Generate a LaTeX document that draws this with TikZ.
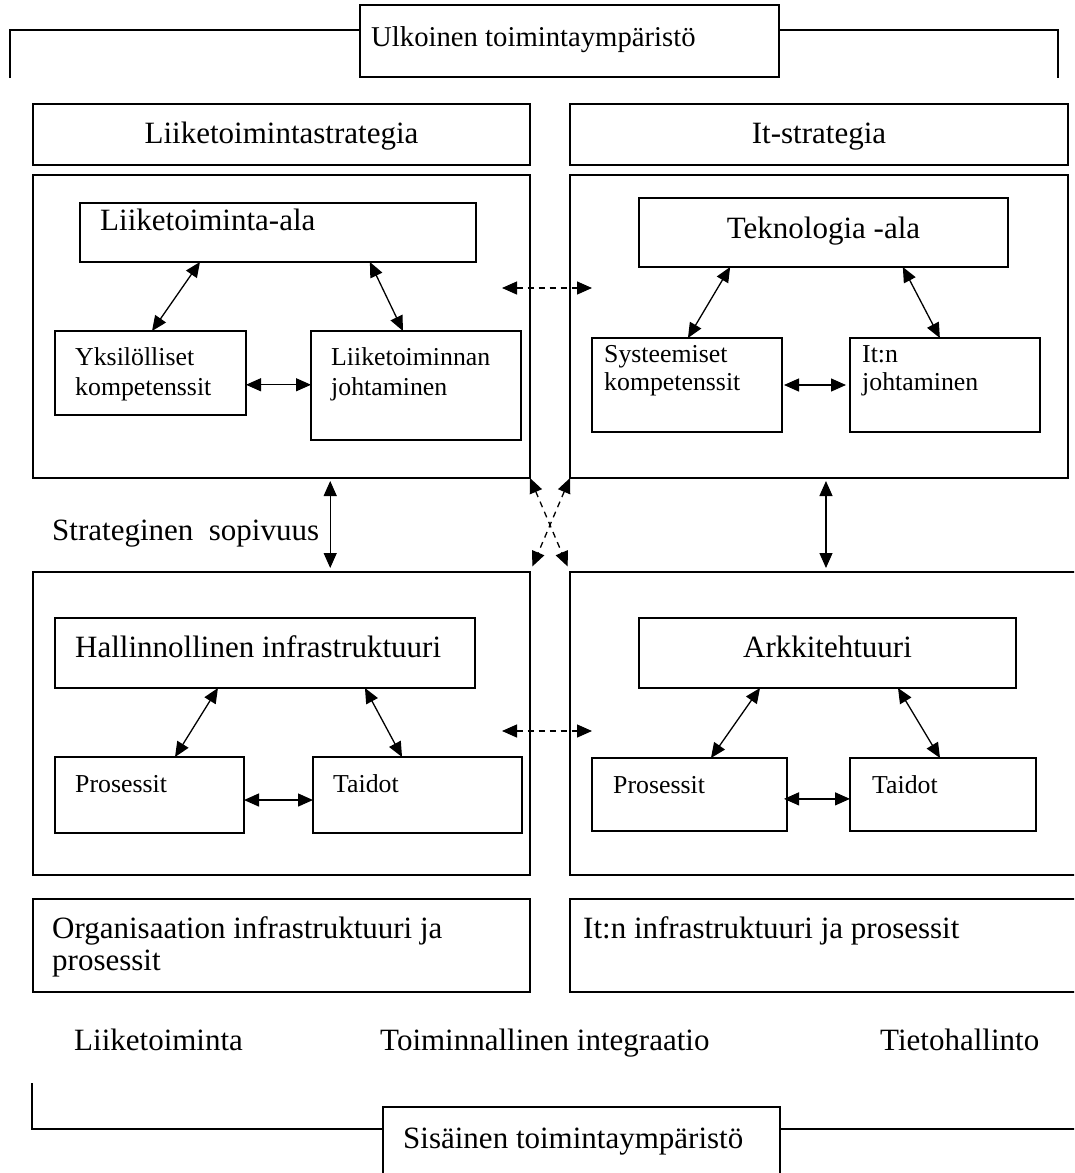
\documentclass[tikz,border=0pt]{standalone}
\usepackage{fontspec}
\setmainfont{Liberation Serif}
\usetikzlibrary{arrows.meta,calc}

\tikzset{
  box/.style={draw, line width=1.6pt, anchor=north west, inner sep=0pt, outer sep=0pt},
  big/.style={font=\fontsize{31}{36}\selectfont, inner sep=0pt, anchor=base west},
  bigc/.style={font=\fontsize{31}{36}\selectfont, inner sep=0pt, anchor=base},
  small/.style={font=\fontsize{25.8}{30}\selectfont, inner sep=0pt, anchor=base west},
  link/.style={line width=1.3pt, {Triangle[length=15pt,width=13pt]}-{Triangle[length=15pt,width=13pt]}},
  dlink/.style={link, dash pattern=on 6pt off 5pt},
  frame/.style={line width=1.6pt}
}

\begin{document}
\begin{tikzpicture}[x=1pt,y=-1pt]
\useasboundingbox (0,0) rectangle (1074,1173);
\clip (0,0) rectangle (1074,1173);

% outer environment, top
\node[box, minimum width=419pt, minimum height=72pt] (ulk) at (360,5) {};
\node[big, font=\fontsize{28.7}{34}\selectfont] (ulkT) at (371,46) {Ulkoinen toimintaympäristö};
\coordinate (tlb) at (10,78);
\coordinate (tlt) at (10,30);
\coordinate (trb) at (1058,78);
\coordinate (trt) at (1058,30);
\draw[frame] (tlb) -- (tlt) -- (ulk.west |- tlt);
\draw[frame] (ulk.east |- trt) -- (trt) -- (trb);

% strategy headers
\node[box, minimum width=497pt, minimum height=61pt] (strL) at (33,104) {};
\node[bigc] (strLT) at (281.5,143) {Liiketoimintastrategia};
\node[box, minimum width=498pt, minimum height=61pt] (strR) at (570,104) {};
\node[bigc] (strRT) at (819,143) {It-strategia};

% upper quadrants
\node[box, minimum width=497pt, minimum height=303pt] (bigUL) at (33,175) {};
\node[box, minimum width=498pt, minimum height=303pt] (bigUR) at (570,175) {};

\node[box, minimum width=396pt, minimum height=59pt] (la) at (80,203) {};
\node[big] (laT) at (100,230) {Liiketoiminta-ala};
\node[box, minimum width=191pt, minimum height=84pt] (yk) at (55,331) {};
\node[small] (ykT1) at (75,365) {Yksilölliset};
\node[small] (ykT2) at (75,395) {kompetenssit};
\node[box, minimum width=210pt, minimum height=109pt] (lj) at (311,331) {};
\node[small] (ljT1) at (331,365) {Liiketoiminnan};
\node[small] (ljT2) at (331,395) {johtaminen};

\node[box, minimum width=369pt, minimum height=69pt] (ta) at (639,198) {};
\node[bigc] (taT) at (823.5,238) {Teknologia -ala};
\node[box, minimum width=190pt, minimum height=94pt] (sy) at (592,338) {};
\node[small] (syT1) at (604,362) {Systeemiset};
\node[small] (syT2) at (604,390) {kompetenssit};
\node[box, minimum width=190pt, minimum height=94pt] (ij) at (850,338) {};
\node[small] (ijT1) at (862,362) {It:n};
\node[small] (ijT2) at (862,390) {johtaminen};

\draw[link] ($(la.south west)!0.303!(la.south east)$) -- ($(yk.north west)!0.508!(yk.north east)$);
\draw[link] ($(la.south west)!0.732!(la.south east)$) -- ($(lj.north west)!0.438!(lj.north east)$);
\coordinate (ykR) at ($(yk.north east)!0.64!(yk.south east)$);
\draw[link] (ykR) -- (ykR -| lj.west);
\draw[link] ($(ta.south west)!0.247!(ta.south east)$) -- ($(sy.north west)!0.505!(sy.north east)$);
\draw[link] ($(ta.south west)!0.715!(ta.south east)$) -- ($(ij.north west)!0.473!(ij.north east)$);
\draw[link, shorten <=2pt, shorten >=4pt] (sy.east) -- (sy.east -| ij.west);

\coordinate (dU1) at (502,288);
\coordinate (dU2) at (592,288);
\draw[dlink] (dU1) -- (dU2);

% lower quadrants
\node[box, minimum width=497pt, minimum height=303pt] (bigLL) at (33,572) {};
\node[box, minimum width=530pt, minimum height=303pt] (bigLR) at (570,572) {};

\node[small, font=\fontsize{31}{36}\selectfont] (sopT) at (52,540) {Strateginen\ \ sopivuus};
\coordinate (vL) at ($(bigUL.south west)!0.598!(bigUL.south east)$);
\draw[link, shorten <=3pt, shorten >=4pt] (vL) -- (vL |- bigLL.north);
\coordinate (vR) at ($(bigUR.south west)!0.514!(bigUR.south east)$);
\draw[link, shorten <=3pt, shorten >=4pt] (vR) -- (vR |- bigLR.north);
\draw[dlink, shorten >=6pt] (bigUL.south east) -- (bigLR.north west);
\draw[dlink, shorten >=6pt] (bigUR.south west) -- (bigLL.north east);

\node[box, minimum width=420pt, minimum height=70pt] (hi) at (55,618) {};
\node[big] (hiT) at (75,657) {Hallinnollinen infrastruktuuri};
\node[box, minimum width=189pt, minimum height=76pt] (prL) at (55,757) {};
\node[small] (prLT) at (75,792) {Prosessit};
\node[box, minimum width=209pt, minimum height=76pt] (taL) at (313,757) {};
\node[small] (taLT) at (333,792) {Taidot};

\node[box, minimum width=377pt, minimum height=70pt] (ar) at (639,618) {};
\node[bigc] (arT) at (827.5,657) {Arkkitehtuuri};
\node[box, minimum width=195pt, minimum height=73pt] (prR) at (592,758) {};
\node[small] (prRT) at (613,793) {Prosessit};
\node[box, minimum width=186pt, minimum height=73pt] (taR) at (850,758) {};
\node[small] (taRT) at (872,793) {Taidot};

\draw[link] ($(hi.south west)!0.388!(hi.south east)$) -- ($(prL.north west)!0.635!(prL.north east)$);
\draw[link] ($(hi.south west)!0.738!(hi.south east)$) -- ($(taL.north west)!0.426!(taL.north east)$);
\coordinate (prLR) at ($(prL.north east)!0.566!(prL.south east)$);
\draw[link] (prLR) -- (prLR -| taL.west);
\draw[link] ($(ar.south west)!0.321!(ar.south east)$) -- ($(prR.north west)!0.61!(prR.north east)$);
\draw[link] ($(ar.south west)!0.687!(ar.south east)$) -- ($(taR.north west)!0.484!(taR.north east)$);
\coordinate (prRR) at ($(prR.north east)!0.56!(prR.south east)$);
\draw[link, shorten <=-3pt] (prRR) -- (prRR -| taR.west);

\coordinate (dL1) at (502,731);
\coordinate (dL2) at (592,731);
\draw[dlink] (dL1) -- (dL2);

% infrastructure boxes
\node[box, minimum width=497pt, minimum height=93pt] (org) at (33,899) {};
\node[big] (orgT1) at (52,938) {Organisaation infrastruktuuri ja};
\node[big] (orgT2) at (52,970) {prosessit};
\node[box, minimum width=530pt, minimum height=93pt] (itn) at (570,899) {};
\node[big] (itnT) at (583,938) {It:n infrastruktuuri ja prosessit};

% column labels
\node[big] (lbl1) at (74,1050) {Liiketoiminta};
\node[big] (lbl2) at (380,1050) {Toiminnallinen integraatio};
\node[big] (lbl3) at (880,1050) {Tietohallinto};

% inner environment, bottom
\node[box, minimum width=397pt, minimum height=80pt] (sis) at (383,1107) {};
\node[big] (sisT) at (403,1148) {Sisäinen toimintaympäristö};
\coordinate (blt) at (32,1083);
\coordinate (blb) at (32,1129);
\coordinate (brb) at (1080,1129);
\draw[frame] (blt) -- (blb) -- (sis.west |- blb);
\draw[frame] (sis.east |- brb) -- (brb);
\end{tikzpicture}
\end{document}
